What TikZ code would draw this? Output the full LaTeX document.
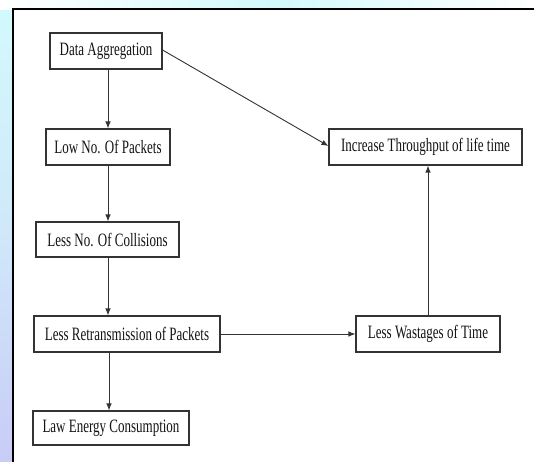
\documentclass[tikz,border=0pt]{standalone}
\usepackage{fontspec}
\setmainfont{Liberation Serif}
\usetikzlibrary{arrows.meta}
\definecolor{bgcyan}{HTML}{D2FAFC}
\definecolor{bgmid}{HTML}{D0E8FA}
\definecolor{bglav}{HTML}{C8CCF6}
\definecolor{boxline}{HTML}{333333}
\definecolor{txt}{HTML}{141414}
\newcommand{\tallt}[1]{\scalebox{1}[1.45]{#1}}
\tikzset{
  box/.style={draw=boxline, line width=1.1pt, fill=white, inner sep=0pt,
    minimum height=36pt, text=txt, font=\fontsize{13}{15}\selectfont},
  conn/.style={draw=black!80, line width=0.9pt, -{Latex[length=7pt,width=5.5pt]}}
}
\begin{document}
\begin{tikzpicture}[x=1pt,y=-1pt]
\useasboundingbox (0,0) rectangle (534,461);
% background
\shade[top color=bgcyan, bottom color=bgmid] (0,0) rectangle (13,230);
\shade[top color=bgmid, bottom color=bglav] (0,230) rectangle (13,461);
\shade[left color=white, right color=bgcyan] (0,0) rectangle (267,9);
\shade[left color=bgcyan, right color=white] (267,0) rectangle (534,9);
\fill[white] (13,9) rectangle (534,461);
\draw[line width=2.6pt, black] (13,470) -- (13,9) -- (545,9);
% nodes
\node[box, minimum width=112pt] (da) at (106,51) {\tallt{Data Aggregation}};
\node[box, minimum width=124pt] (lp) at (108,147) {\tallt{Low No. Of Packets}};
\node[box, minimum width=143pt, minimum height=35pt] (lc) at (107.5,239.5) {\tallt{Less No. Of Collisions}};
\node[box, minimum width=186pt] (lr) at (127,334) {\tallt{Less Retransmission of Packets}};
\node[box, minimum width=156pt, minimum height=34pt] (le) at (111,428) {\tallt{Law Energy Consumption}};
\node[box, minimum width=144pt] (lw) at (428,334) {\tallt{Less Wastages of Time}};
\node[box, minimum width=193pt] (it) at (425.5,147) {\tallt{Increase Throughput of life time}};
% connectors
\coordinate (a1) at (108,69);
\draw[conn] (a1) -- (a1 |- lp.north);
\coordinate (a2) at (108,165);
\draw[conn] (a2) -- (a2 |- lc.north);
\coordinate (a3) at (108,257);
\draw[conn] (a3) -- (a3 |- lr.north);
\coordinate (a4) at (109,352);
\draw[conn] (a4) -- (a4 |- le.north);
\draw[conn] (lr.east) -- (lw.west);
\draw[conn] (lw.north) -- (lw.north |- it.south);
\draw[conn] ([yshift=1pt]da.east) -- ([yshift=1pt]it.west);
\end{tikzpicture}
\end{document}
